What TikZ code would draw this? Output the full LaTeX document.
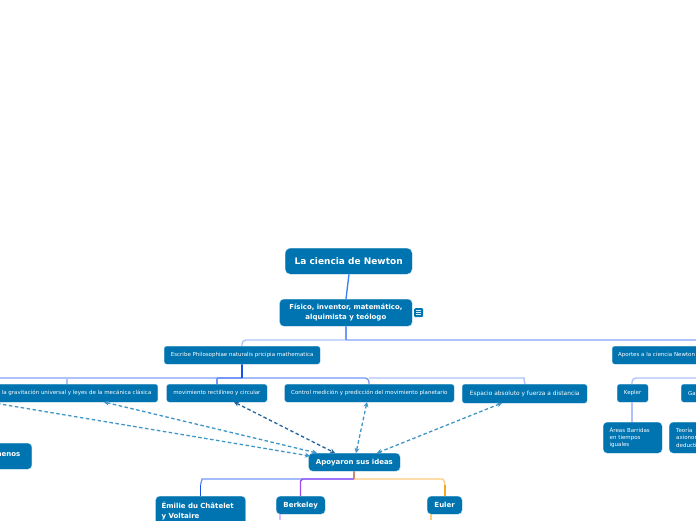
\documentclass[tikz,border=0pt]{standalone}
\usepackage{fontspec}
\setmainfont{DejaVu Sans}
\usetikzlibrary{arrows.meta,calc}
\definecolor{boxblue}{HTML}{0074B0}
\definecolor{edgeblue}{HTML}{3F7FF5}
\definecolor{paleblue}{HTML}{AEC3FB}
\definecolor{deepblue}{HTML}{1A4FE8}
\definecolor{midblue}{HTML}{7398FA}
\definecolor{dashlight}{HTML}{3E95C8}
\definecolor{dashdeep}{HTML}{24659F}
\definecolor{purp}{HTML}{9A4DF5}
\definecolor{palepurp}{HTML}{DDBBFF}
\definecolor{oran}{HTML}{F7A823}
\definecolor{paleoran}{HTML}{FFCB7D}
\tikzset{
  x=1pt,y=-1pt,
  box/.style={draw=white!70!boxblue,line width=.3pt,fill=boxblue,rounded corners=2.5pt,text=white,inner sep=0pt,align=center,anchor=north west},
  small/.style={box,font=\fontsize{5.5}{7.2}\selectfont},
  big/.style={box,rounded corners=4pt,font=\bfseries\fontsize{7}{10}\selectfont},
  link/.style={line width=1.35pt,rounded corners=4pt},
  dashlink/.style={line width=1.3pt,dash pattern=on 3.5pt off 2.5pt,dashlight,{Stealth[length=5pt,width=5pt,open]}-{Stealth[length=5pt,width=5pt]}},
}
\newcommand{\bx}[7][small]{\node[#1,minimum width=#4pt,minimum height=#5pt,#7] (#2) at (#3) {#6};}
\begin{document}
\begin{tikzpicture}
\useasboundingbox (0,0) rectangle (696,520);
\clip (0,0) rectangle (696,520);
\fill[white] (0,0) rectangle (696,520);

% junction coordinates
\coordinate (j1) at (346,340);
\coordinate (j1l) at (242,346);
\coordinate (j1r) at (696,340);
\coordinate (j2) at (242,378);
\coordinate (j3) at (354,479);
\coordinate (jk) at (696,378);

% connectors
\draw[link,paleblue] (j1) -| (j1l);
\draw[link,paleblue] (j1) -- (j1r);
\draw[link,midblue] (346,326) -- (j1);
\draw[link,edgeblue] (349,274) -- (346,299);
\draw[link,paleblue] (jk) -| (632,384);
\draw[link,paleblue] (632,402) -- (632,422);
\draw[link,midblue] (j2) -- (217,378);
\draw[link,paleblue] (217,378) -- (0,378);
\draw[link,paleblue] (67,378) -- (67,384);
\draw[link,midblue] (217,378) -- (217,384);
\draw[link,midblue] (j2) -- (369,378) -- (369,384);
\draw[link,paleblue] (369,378) -- (520,378) to[out=0,in=90] (525,384);
\draw[link,deepblue] (242,364) -- (j2);

\draw[link,midblue] (j3) -- (206,479) to[out=180,in=90] (200.5,485);
\draw[link,deepblue] (200.5,485) -- (200.5,496);
\draw[link,purp] (j3) -- (306,479) to[out=180,in=90] (300.5,485) -- (300.5,496);
\draw[link,paleoran] (j3) -- (439,479) to[out=0,in=90] (445,485);
\draw[link,oran] (445,485) -- (445,496);
\draw[link,oran!60!purp] (354,471) -- (j3);
\draw[link,palepurp] (280,514) -- (280,520);
\draw[link,paleoran] (431,514) -- (431,520);

% nodes
\bx[big]{root}{285,248}{127}{26}{\fontsize{9}{11}\selectfont La ciencia de Newton}{rounded corners=5pt}
\bx[big]{fisico}{279.5,299}{132.5}{27}{\fontsize{6.9}{9}\selectfont Físico, inventor, matemático,\\alquimista y teólogo}{}
\bx{escribe}{164,346}{156}{18}{Escribe Philosophiae naturalis pricipia mathematica}{}
\node[small,minimum height=18pt,inner xsep=6pt] (aportes) at (612,346) {Aportes a la ciencia Newton};
\node[small,minimum height=18pt,inner xsep=6.5pt,anchor=north east] (grav) at (158,384) {Ley de la gravitación universal y leyes de la mecánica clásica};
\bx{mov}{166.5,384}{100.5}{18}{movimiento rectilíneo y circular}{}
\bx{control}{284.5,384}{169.5}{18}{Control medición y predicción del movimiento planetario}{}
\bx{espacio}{462,384}{125}{19}{\fontsize{5.9}{7.2}\selectfont Espacio absoluto y fuerza a distancia}{}
\bx{kepler}{617,384}{31}{18}{Kepler}{}
\node[small,minimum height=18pt,inner xsep=7pt] (gal) at (681,384) {Galileo};
\node[small,minimum width=59pt,minimum height=31pt,rounded corners=4pt,align=left,text width=46pt,inner xsep=6.5pt] (areas) at (603,422) {Áreas Barridas\\en tiempos\\iguales};
\node[small,minimum height=31pt,rounded corners=4pt,align=left,inner xsep=7pt] (teoria) at (669,422) {Teoría\\axionomática\\deductiva};
\node[big,minimum height=26pt,inner xsep=11.5pt,anchor=north east] (feno) at (32,443) {\raisebox{5pt}{Fenómenos}};
\bx[big]{apoy}{308.5,453}{91.5}{18}{Apoyaron sus ideas}{}
\node[big,minimum width=89.5pt,minimum height=40pt,align=left,text width=78pt,inner xsep=6pt,anchor=north west] (emilie) at (155.5,496) {\vphantom{Ag}\\[-8pt]Émilie du Châtelet\\y Voltaire\\\strut};
\bx[big]{berk}{276,496}{49}{18}{Berkeley}{}
\bx[big]{euler}{427,496}{35}{18}{Euler}{}
\node[fill=boxblue,rounded corners=1.2pt,minimum size=9pt,inner sep=0pt,anchor=north west] (icon) at (414,308) {};
\foreach \yy in {-2,0,2} \draw[white!85!boxblue,line width=.6pt] ($(icon.center)+(-2.4,\yy)$) -- ($(icon.center)+(2.4,\yy)$);

% dashed relations
\coordinate (gl) at (-6,403);
\draw[dashlink] (gl) -- (310,456);
\draw[dashlink] (104,402) -- (317,453);
\draw[dashlink,dashdeep] (234,402) -- (335,453);
\draw[dashlink] (367,402) -- (356,453);
\draw[dashlink] (502,403) -- (377,453);
\end{tikzpicture}
\end{document}
